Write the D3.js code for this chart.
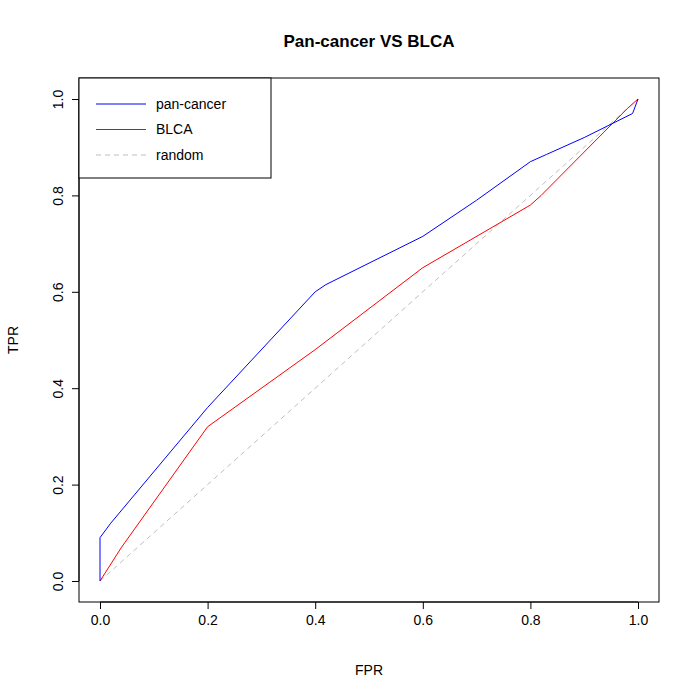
<!DOCTYPE html>
<html><head><meta charset="utf-8">
<script src="https://cdn.jsdelivr.net/npm/d3@7"></script>
<style>body{margin:0;background:#fff}</style>
</head><body>
<svg id="chart" width="700" height="700"></svg>
<script>
const panCancerFPR = [0, 0, 0.02, 0.2, 0.4, 0.42, 0.6, 0.7, 0.8, 0.83, 0.9, 0.99, 1];
const panCancerTPR = [0, 0.09, 0.12, 0.36, 0.6, 0.615, 0.715, 0.79, 0.87, 0.885, 0.92, 0.97, 1];
const blcaFPR = [0, 0.04, 0.2, 0.4, 0.6, 0.8, 0.82, 0.9, 0.98, 1];
const blcaTPR = [0, 0.07, 0.32, 0.48, 0.65, 0.78, 0.8, 0.89, 0.98, 1];
const randomFPR = [0, 1];
const randomTPR = [0, 1];
const ticks = [0, 0.2, 0.4, 0.6, 0.8, 1.0];
const legendLabels = ["pan-cancer", "BLCA", "random"];

const svg = d3.select("#chart");
const font = "Liberation Sans, Arial, sans-serif";
const x = d3.scaleLinear().domain([0, 1]).range([100, 638]);
const y = d3.scaleLinear().domain([0, 1]).range([581, 99]);

// plot box
svg.append("rect").attr("x", 79).attr("y", 78).attr("width", 580).attr("height", 524)
    .attr("fill", "none").attr("stroke", "#000");

// x axis
const xa = svg.append("g").attr("transform", "translate(0,602)")
    .call(d3.axisBottom(x).tickValues(ticks).tickFormat(d3.format(".1f")).tickSize(7).tickPadding(6));
xa.select(".domain").attr("d", "M100,0H638");
xa.selectAll("text").attr("font-size", 14).attr("font-family", font).attr("fill", "#000");

// y axis
const ya = svg.append("g").attr("transform", "translate(79,0)")
    .call(d3.axisLeft(y).tickValues(ticks).tickFormat(d3.format(".1f")).tickSize(7));
ya.select(".domain").attr("d", "M0,581V99");
ya.selectAll("text").attr("font-size", 14).attr("font-family", font).attr("fill", "#000")
    .attr("transform", "rotate(-90)").attr("x", 0).attr("y", -21).attr("dy", "0.35em")
    .attr("text-anchor", "middle");

svg.append("text").attr("x", 369).attr("y", 47).attr("text-anchor", "middle")
    .attr("font-size", 17).attr("font-weight", "bold").attr("font-family", font).text("Pan-cancer VS BLCA");
svg.append("text").attr("x", 369).attr("y", 675).attr("text-anchor", "middle")
    .attr("font-size", 14).attr("font-family", font).text("FPR");
svg.append("text").attr("transform", "translate(18,340) rotate(-90)").attr("text-anchor", "middle")
    .attr("font-size", 14).attr("font-family", font).text("TPR");

function drawLine(xs, ys, color, dash) {
    const pts = xs.map((v, i) => [v, ys[i]]);
    svg.append("path").datum(pts)
        .attr("d", d3.line().x(d => x(d[0])).y(d => y(d[1])))
        .attr("fill", "none").attr("stroke", color).attr("stroke-width", 1)
        .attr("stroke-dasharray", dash || null);
}
drawLine(randomFPR, randomTPR, "#bebebe", "5,4");
drawLine(blcaFPR, blcaTPR, "red");
drawLine(panCancerFPR, panCancerTPR, "blue");

// legend
svg.append("rect").attr("x", 79).attr("y", 78).attr("width", 192).attr("height", 100)
    .attr("fill", "#fff").attr("stroke", "#000");
const legColors = ["blue", "red", "#bebebe"];
legendLabels.forEach((lab, i) => {
    const ly = 104 + i * 25.5;
    svg.append("line").attr("x1", 96).attr("x2", 146).attr("y1", ly).attr("y2", ly)
        .attr("stroke", legColors[i]).attr("stroke-dasharray", i === 2 ? "5,4" : null);
    svg.append("text").attr("x", 156).attr("y", ly).attr("dy", "0.35em")
        .attr("font-size", 14).attr("font-family", font).text(lab);
});
</script>
</body></html>
